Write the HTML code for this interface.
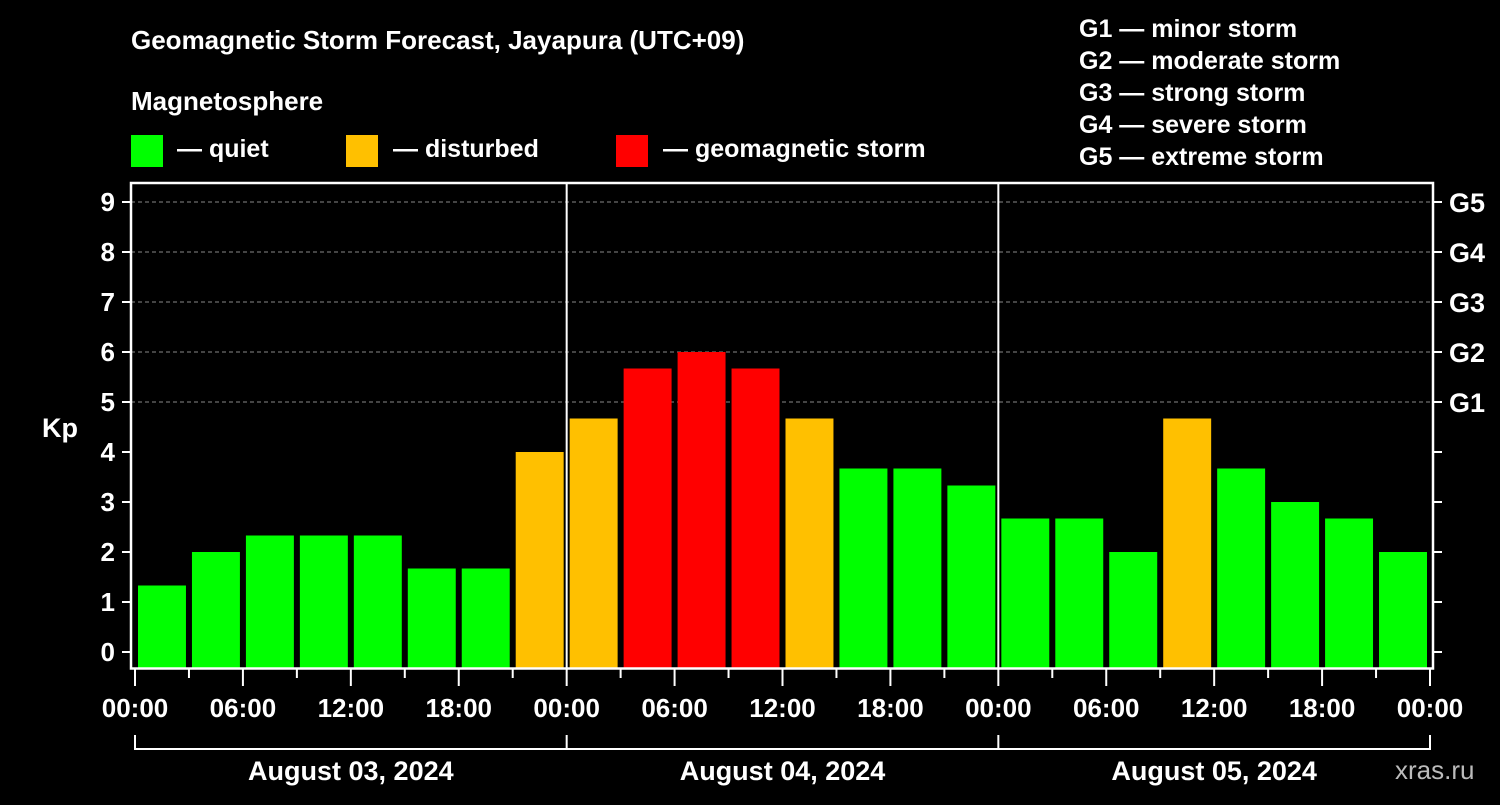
<!DOCTYPE html>
<html><head><meta charset="utf-8"><style>
body{margin:0;background:#000;}
svg text{font-family:"Liberation Sans",sans-serif;font-weight:bold;fill:#fff;}
</style></head><body>
<svg id="c" width="1500" height="800" xmlns="http://www.w3.org/2000/svg">
<rect width="1500" height="800" fill="#000"/>
<text x="131" y="49" font-size="26">Geomagnetic Storm Forecast, Jayapura (UTC+09)</text>
<text x="131" y="110" font-size="26">Magnetosphere</text>
<g><rect x="131" y="135" width="32" height="32" fill="#00ff00"/><text x="177" y="157" font-size="25">— quiet</text></g>
<g><rect x="346" y="135" width="32" height="32" fill="#ffc000"/><text x="393" y="157" font-size="25">— disturbed</text></g>
<g><rect x="616" y="135" width="32" height="32" fill="#ff0000"/><text x="663" y="157" font-size="25">— geomagnetic storm</text></g>
<g font-size="25">
<text x="1079" y="37">G1 — minor storm</text>
<text x="1079" y="69">G2 — moderate storm</text>
<text x="1079" y="101">G3 — strong storm</text>
<text x="1079" y="133">G4 — severe storm</text>
<text x="1079" y="165">G5 — extreme storm</text>
</g>
<text x="42" y="437" font-size="27">Kp</text>
<text x="1395" y="779" font-size="26" fill="#bbb" style="fill:#bbb;font-weight:normal">xras.ru</text>
<g id="plot"></g>
</svg>
<script>
const kpValues=[1.33,2,2.33,2.33,2.33,1.67,1.67,4,4.67,5.67,6,5.67,4.67,3.67,3.67,3.33,2.67,2.67,2,4.67,3.67,3,2.67,2];
const dayLabels=["August 03, 2024","August 04, 2024","August 05, 2024"];
const hourLabels=["00:00","06:00","12:00","18:00"];
const yTicks=[0,1,2,3,4,5,6,7,8,9];
const gLabels=["G1","G2","G3","G4","G5"];
const NS="http://www.w3.org/2000/svg";
const g=document.getElementById('plot');
const X0=135,X1=1430,slot=(X1-X0)/kpValues.length;
const yS=v=>652-50*v;
const xS=i=>X0+i*slot;
function el(t,a,txt){const e=document.createElementNS(NS,t);for(const k in a)e.setAttribute(k,a[k]);if(txt!=null)e.textContent=txt;g.appendChild(e);return e;}
yTicks.forEach(v=>{
 if(v>=5){const l=el('line',{x1:131,x2:1433,y1:yS(v),y2:yS(v),stroke:'#888','stroke-dasharray':'4,3','stroke-width':1});
 
 }
 const t=el('line',{x1:122,x2:131,y1:yS(v),y2:yS(v),stroke:'#fff','stroke-width':2});
 
 
 const r=el('line',{x1:1433,x2:1442,y1:yS(v),y2:yS(v),stroke:'#fff','stroke-width':2});
 
 
 const tx=el('text',{x:115,y:yS(v)+9,'font-size':26,'text-anchor':'end'},String(v));
 
 
});
gLabels.forEach((s,i)=>{
 const tx=el('text',{x:1449,y:yS(5+i)+10,'font-size':27},s);
 
 
});
kpValues.forEach((v,i)=>{
 const c=v>=5?'#ff0000':(v>=4?'#ffc000':'#00ff00');
 const b=el('rect',{x:xS(i)+3,y:yS(v),width:slot-6,height:668-yS(v),fill:c});
 
 
});
const f=el('rect',{x:131,y:183,width:1302,height:485.5,fill:'none',stroke:'#fff','stroke-width':2.5});


for(let d=1;d<dayLabels.length;d++){
 const x=xS(d*8);
 const l=el('line',{x1:x,x2:x,y1:183,y2:668,stroke:'#fff','stroke-width':2});
 
 
}
for(let i=0;i<=kpValues.length;i++){
 const major=i%2===0;
 const t=el('line',{x1:xS(i),x2:xS(i),y1:669,y2:major?686:678,stroke:'#fff','stroke-width':2});
 
 
 if(major){
  const tx=el('text',{x:xS(i),y:717,'font-size':26,'text-anchor':'middle'},hourLabels[(i/2)%4]);
  
  
 }
}
el('path',{d:`M${xS(0)},735V749H${xS(24)}V735`,fill:'none',stroke:'#fff','stroke-width':2});
dayLabels.forEach((s,d)=>{
 const t=el('line',{x1:xS(d*8),x2:xS(d*8),y1:735,y2:749,stroke:'#fff','stroke-width':2});
 
 
 const tx=el('text',{x:xS(d*8+4),y:780,'font-size':27,'text-anchor':'middle'},s);
 
 
});
</script>
</body></html>
